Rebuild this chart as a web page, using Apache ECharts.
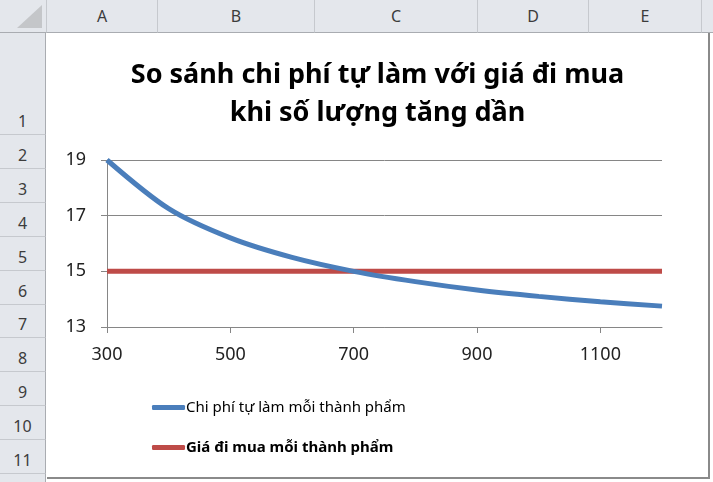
<!DOCTYPE html>
<html>
<head>
<meta charset="utf-8">
<script src="https://cdn.jsdelivr.net/npm/echarts@6/dist/echarts.min.js"></script>
<style>
  html, body { margin: 0; padding: 0; background: #fff; }
  #sheet { position: relative; width: 713px; height: 482px; overflow: hidden; background: #fff;
           font-family: "Noto Sans", sans-serif; }
  .colhead { position: absolute; top: 0; height: 32px; background: #e4e7ec; border-right: 1px solid #c6c9ce;
             border-bottom: 1px solid #a9acb1; box-sizing: content-box; color: #3c3c3c; font-size: 16px;
             text-align: center; line-height: 32px; }
  .rowhead { position: absolute; left: 0; width: 46px; background: #e4e7ec; border-right: 1px solid #a9acb1;
             border-bottom: 1px solid #c6c9ce; color: #3c3c3c; font-size: 16px; text-align: center;
             box-sizing: border-box; display: flex; align-items: flex-end; justify-content: center; padding-bottom: 2px; }
  #corner { position: absolute; left: 0; top: 0; width: 46px; height: 32px; background: #e4e7ec;
            border-right: 1px solid #c6c9ce; border-bottom: 1px solid #a9acb1; }
  #tri { position: absolute; left: 17px; top: 5px; width: 25px; height: 23px; background: #c4c6c9;
         clip-path: polygon(100% 0, 100% 100%, 0 100%); }
  #main { position: absolute; left: 47px; top: 33px; width: 661px; height: 444px; background: #fff;
          border-right: 2px solid #8a8a8a; border-bottom: 2px solid #8a8a8a; }
</style>
</head>
<body>
<div id="sheet">
  <div id="corner"><div id="tri"></div></div>
  <div id="main"></div>
</div>
<script>
// spreadsheet frame
var colNames = ['A', 'B', 'C', 'D', 'E', 'F'];
var colEdges = [47, 158, 315, 478, 589, 702, 800];
var rowNames = ['1', '2', '3', '4', '5', '6', '7', '8', '9', '10', '11', '12'];
var rowEdges = [33, 135, 169, 203, 237, 271, 305, 338, 372, 406, 440, 474, 508];

var sheet = document.getElementById('sheet');
colNames.forEach(function (n, i) {
    var d = document.createElement('div');
    d.className = 'colhead';
    d.style.left = colEdges[i] + 'px';
    d.style.width = (colEdges[i + 1] - colEdges[i] - 1) + 'px';
    d.textContent = n;
    sheet.appendChild(d);
});
rowNames.forEach(function (n, i) {
    var d = document.createElement('div');
    d.className = 'rowhead';
    d.style.top = rowEdges[i] + 'px';
    d.style.height = (rowEdges[i + 1] - rowEdges[i]) + 'px';
    d.textContent = n;
    sheet.appendChild(d);
});

// chart data
var quantities = ['300', '400', '500', '600', '700', '800', '900', '1000', '1100', '1200'];
var selfMadeCost = [19, 17.25, 16.2, 15.5, 15, 14.63, 14.33, 14.1, 13.91, 13.75];
var buyPrice = [15, 15, 15, 15, 15, 15, 15, 15, 15, 15];
var seriesNames = ['Chi phí tự làm mỗi thành phẩm', 'Giá đi mua mỗi thành phẩm'];

var chart = echarts.init(document.getElementById('main'));
chart.setOption({
    animation: false,
    textStyle: { fontFamily: 'Noto Sans' },
    title: {
        text: 'So sánh chi phí tự làm với giá đi mua\nkhi số lượng tăng dần',
        left: 'center',
        top: 18,
        textStyle: { fontSize: 27, fontWeight: 'bold', color: '#000', lineHeight: 38 }
    },
    legend: {
        orient: 'vertical',
        left: 100,
        top: 362,
        itemGap: 25,
        itemWidth: 33,
        itemHeight: 5,
        icon: 'roundRect',
        textStyle: {
            fontSize: 15, color: '#000', padding: [0, 0, 0, -4],
            rich: { b: { fontSize: 15, fontWeight: 'bold', color: '#000' } }
        },
        // second entry is bold in the picture
        formatter: function (name) {
            return name === seriesNames[1] ? '{b|' + name + '}' : name;
        },
        data: seriesNames
    },
    grid: { left: 60, right: 46, top: 127, bottom: 150 },
    xAxis: {
        type: 'category',
        boundaryGap: false,
        data: quantities,
        axisLine: { lineStyle: { color: '#868686', width: 1 } },
        axisTick: { interval: 1, length: 6, lineStyle: { color: '#868686' } },
        axisLabel: { interval: 1, fontSize: 18, color: '#222', margin: 19 }
    },
    yAxis: {
        type: 'value',
        min: 13,
        max: 19,
        interval: 2,
        axisLine: { show: true, lineStyle: { color: '#868686', width: 1 } },
        axisTick: { show: true, length: 6, lineStyle: { color: '#868686' } },
        axisLabel: { fontSize: 18, color: '#222', margin: 21 },
        splitLine: { lineStyle: { color: '#868686', width: 1 } }
    },
    series: [
        {
            name: seriesNames[0],
            type: 'line',
            data: selfMadeCost,
            smooth: 0.3,
            symbol: 'none',
            lineStyle: { width: 5, color: '#4a7ebb' },
            itemStyle: { color: '#4a7ebb' },
            z: 3
        },
        {
            name: seriesNames[1],
            type: 'line',
            data: buyPrice,
            symbol: 'none',
            lineStyle: { width: 5, color: '#be4b48' },
            itemStyle: { color: '#be4b48' },
            z: 2
        }
    ]
});
</script>
</body>
</html>
